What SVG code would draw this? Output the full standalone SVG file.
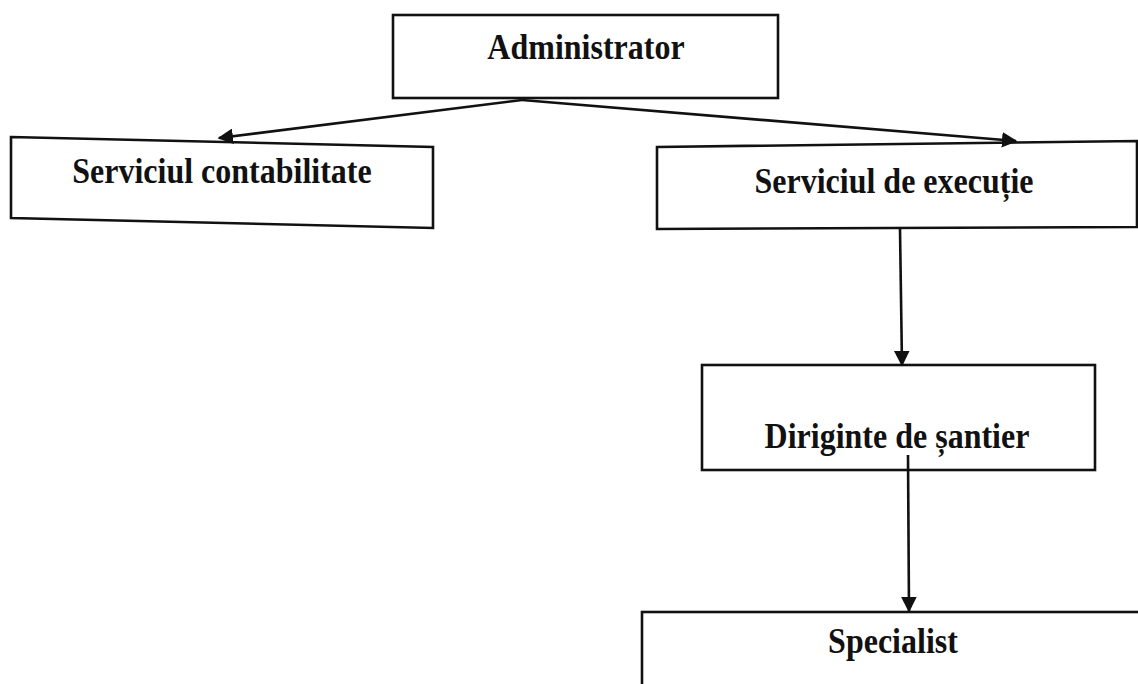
<svg xmlns="http://www.w3.org/2000/svg" width="1138" height="684" viewBox="0 0 1138 684">
<style>
.box{fill:#fff;stroke:#111;stroke-width:2.6}
.lbl{font-family:"Liberation Serif","Times New Roman",serif;font-weight:bold;font-size:32px;fill:#111;text-anchor:middle}
.conn{stroke:#111;stroke-width:2.6;fill:none}
</style>
<defs>
<marker id="arr" viewBox="0 0 10 10" refX="9" refY="5" markerWidth="6" markerHeight="6" markerUnits="strokeWidth" orient="auto">
<path d="M0,0 L10,5 L0,10 z" fill="#111"/>
</marker>
</defs>
<rect width="1138" height="684" fill="#fff"/>
<g id="administrator">
<rect class="box" x="393" y="15" width="385" height="83"/>
<text class="lbl" x="586" y="59" transform="translate(0,59) scale(1,1.12) translate(0,-59)">Administrator</text>
</g>
<g id="serviciul-contabilitate">
<polygon class="box" points="11,137 433,147 433,228 11,218"/>
<text class="lbl" x="222" y="183" transform="translate(0,183) scale(1,1.12) translate(0,-183)">Serviciul contabilitate</text>
</g>
<g id="serviciul-executie">
<polygon class="box" points="657,147 1137,141 1137,227 657,229"/>
<text class="lbl" x="894" y="193" transform="translate(0,193) scale(1,1.12) translate(0,-193)">Serviciul de execuție</text>
</g>
<g id="diriginte">
<rect class="box" x="702" y="365" width="393" height="105"/>
<text class="lbl" x="897" y="448" transform="translate(0,448) scale(1,1.12) translate(0,-448)">Diriginte de șantier</text>
</g>
<g id="specialist">
<rect class="box" x="642" y="612" width="510" height="90"/>
<text class="lbl" x="893" y="653" transform="translate(0,653) scale(1,1.12) translate(0,-653)">Specialist</text>
</g>
<g id="connectors">
<line class="conn" x1="522" y1="100" x2="219" y2="138" marker-end="url(#arr)"/>
<line class="conn" x1="522" y1="100" x2="1016" y2="141" marker-end="url(#arr)"/>
<line class="conn" x1="900" y1="229" x2="902" y2="365" marker-end="url(#arr)"/>
<line class="conn" x1="908" y1="455" x2="909" y2="611" marker-end="url(#arr)"/>
</g>
</svg>
